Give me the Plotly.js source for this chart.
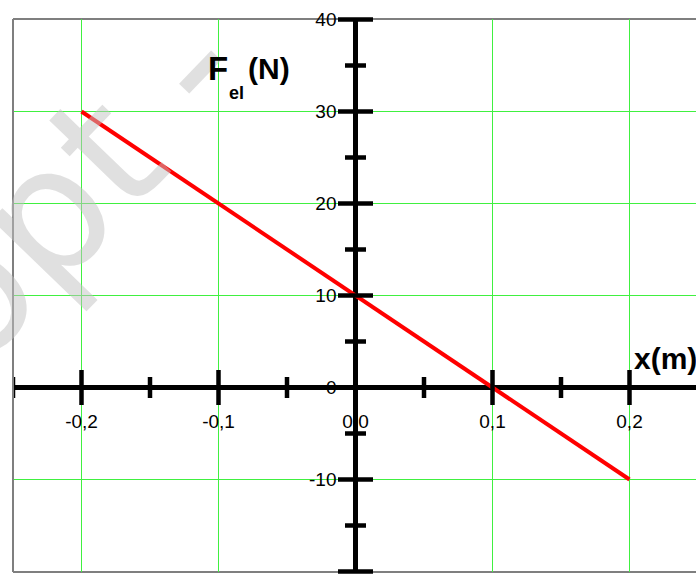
<!DOCTYPE html>
<html>
<head>
<meta charset="utf-8">
<script src="https://cdn.plot.ly/plotly-3.0.1.min.js"></script>
<style>
  html, body { margin: 0; padding: 0; background: #ffffff; }
  #chart { width: 696px; height: 575px; }
</style>
</head>
<body>
<div id="chart"></div>
<script>
// Elastic force against displacement: F_el = -k x + F0
const displacement = [-0.2, 0.2];   // x (m)
const force = [30, -10];            // F_el (N)

// Axis scale: labelled values and the small cross-ticks on the axes
const xTickVals = [-0.2, -0.1, 0, 0.1, 0.2];
const xTickText = ['-0,2', '-0,1', '0,0', '0,1', '0,2'];
const yTickVals = [40, 30, 20, 10, 0, -10, -20];
const yTickText = ['40', '30', '20', '10', '0', '-10', '-20'];
const xMajorTicks = [-0.2, -0.1, 0.1, 0.2];
const xMinorTicks = [-0.25, -0.15, -0.05, 0.05, 0.15, 0.25];
const yMajorTicks = [40, 30, 20, 10, -10, -20];
const yMinorTicks = [35, 25, 15, 5, -5, -15];

const W = 696, H = 575;
const M = { l: 13, r: 0, t: 19, b: 3 };
const plotW = W - M.l - M.r;
const plotH = H - M.t - M.b;

// fixed pixel scales so that every grid line falls on a pixel centre
const xPxPerUnit = 1370;            // 137 px per 0.1 m
const yPxPerUnit = 9.2;             // 92 px per 10 N
const xMin = -0.25;
const xRange = [xMin, xMin + plotW / xPxPerUnit];
const yTop = 40 + 0.5 / yPxPerUnit;
const yRange = [yTop - plotH / yPxPerUnit, yTop];

// pixel position -> paper fraction (for text placement)
const px = v => (v - M.l) / plotW;
const py = v => (H - M.b - v) / plotH;

const FONT = 'Liberation Sans, Arial, sans-serif';
const GRID = 'rgb(64,240,64)';
const BORDER = '#7f7f7f';

const zeros = arr => arr.map(() => 0);

const traces = [
  {
    x: displacement, y: force,
    type: 'scatter', mode: 'lines',
    line: { color: '#ff0000', width: 4 },
    hoverinfo: 'skip'
  },
  // cross ticks along the horizontal axis
  {
    x: xMajorTicks, y: zeros(xMajorTicks), type: 'scatter', mode: 'markers',
    marker: { symbol: 'line-ns', size: 25, line: { color: '#000', width: 4.5 } },
    cliponaxis: false, hoverinfo: 'skip'
  },
  {
    x: xMinorTicks, y: zeros(xMinorTicks), type: 'scatter', mode: 'markers',
    marker: { symbol: 'line-ns', size: 15, line: { color: '#000', width: 4.5 } },
    cliponaxis: true, hoverinfo: 'skip'
  },
  // cross ticks along the vertical axis
  {
    x: zeros(yMajorTicks), y: yMajorTicks, type: 'scatter', mode: 'markers',
    marker: { symbol: 'line-ew', size: 25, line: { color: '#000', width: 4.5 } },
    cliponaxis: false, hoverinfo: 'skip'
  },
  {
    x: zeros(yMinorTicks), y: yMinorTicks, type: 'scatter', mode: 'markers',
    marker: { symbol: 'line-ew', size: 15, line: { color: '#000', width: 4.5 } },
    cliponaxis: false, hoverinfo: 'skip'
  }
];

const layout = {
  width: W, height: H,
  margin: M,
  paper_bgcolor: '#ffffff',
  plot_bgcolor: '#ffffff',
  showlegend: false,
  separators: ', ',
  xaxis: {
    range: xRange,
    anchor: 'free',
    position: (0 - yRange[0]) / (yRange[1] - yRange[0]),
    tickvals: xTickVals, ticktext: xTickText,
    ticks: '', showline: false,
    ticklabelstandoff: 20,
    tickfont: { family: FONT, size: 19, color: '#000' },
    showgrid: true, gridcolor: GRID, gridwidth: 1,
    zeroline: true, zerolinecolor: '#000', zerolinewidth: 4.5,
    fixedrange: true
  },
  yaxis: {
    range: yRange,
    anchor: 'free',
    position: (0 - xRange[0]) / (xRange[1] - xRange[0]),
    tickvals: yTickVals, ticktext: yTickText,
    ticks: '', showline: false,
    ticklabelstandoff: 19,
    tickfont: { family: FONT, size: 19, color: '#000' },
    showgrid: true, gridcolor: GRID, gridwidth: 1,
    zeroline: true, zerolinecolor: '#000', zerolinewidth: 4.5,
    fixedrange: true
  },
  shapes: [
    { type: 'line', xref: 'paper', yref: 'paper', x0: 0, x1: 0, y0: 0, y1: 1,
      line: { color: BORDER, width: 2 }, layer: 'above' },
    { type: 'line', xref: 'paper', yref: 'paper', x0: 0, x1: 1, y0: 1, y1: 1,
      line: { color: BORDER, width: 2 }, layer: 'below' },
    { type: 'line', xref: 'paper', yref: 'paper', x0: 0, x1: 1, y0: 0, y1: 0,
      line: { color: BORDER, width: 2 }, layer: 'below' }
  ],
  annotations: [
    // faint diagonal watermark
    { text: 'opt -', xref: 'paper', yref: 'paper', x: px(72), y: py(186),
      xanchor: 'center', yanchor: 'middle', textangle: -46, showarrow: false,
      font: { family: 'DejaVu Sans, sans-serif', size: 175, color: '#c2c2c2' },
      opacity: 0.5 },
    // axis names
    { text: '<b>F</b>', xref: 'paper', yref: 'paper', x: px(206), y: py(68),
      xanchor: 'left', yanchor: 'middle', showarrow: false,
      font: { family: FONT, size: 33, color: '#000' } },
    { text: '<b>el</b>', xref: 'paper', yref: 'paper', x: px(227), y: py(93),
      xanchor: 'left', yanchor: 'middle', showarrow: false,
      font: { family: FONT, size: 18, color: '#000' } },
    { text: '<b>(N)</b>', xref: 'paper', yref: 'paper', x: px(246), y: py(69),
      xanchor: 'left', yanchor: 'middle', showarrow: false,
      font: { family: FONT, size: 30, color: '#000' } },
    { text: '<b>x(m)</b>', xref: 'paper', yref: 'paper', x: px(632), y: py(358),
      xanchor: 'left', yanchor: 'middle', showarrow: false,
      font: { family: FONT, size: 30, color: '#000' } }
  ]
};

Plotly.newPlot('chart', traces, layout, { displayModeBar: false, staticPlot: true });
</script>
</body>
</html>
